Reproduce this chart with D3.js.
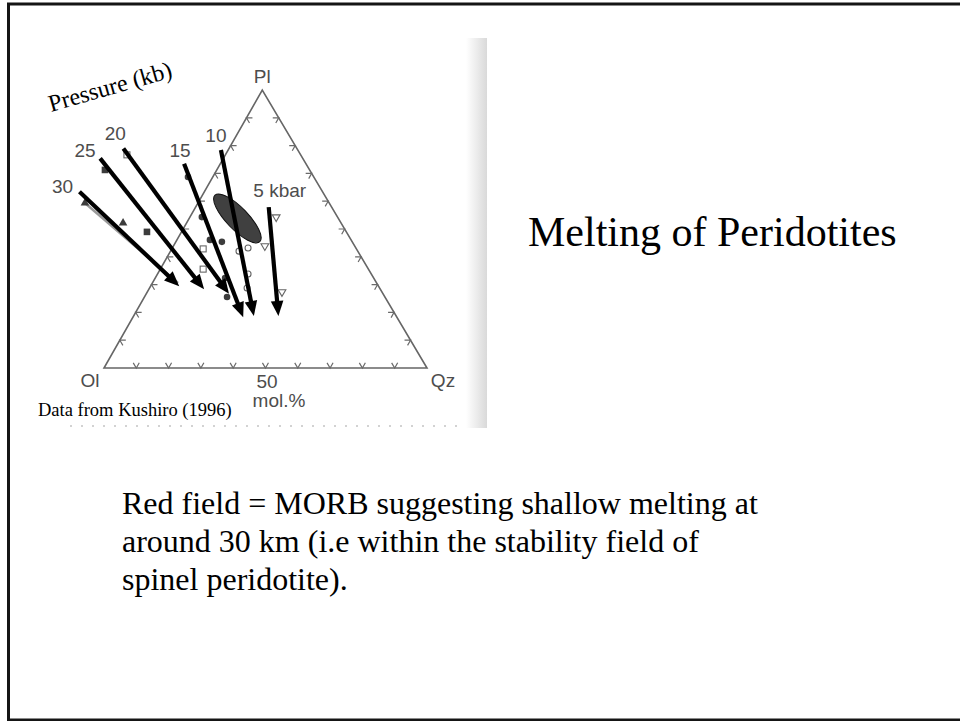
<!DOCTYPE html>
<html><head><meta charset="utf-8">
<script src="https://cdn.jsdelivr.net/npm/d3@7/dist/d3.min.js"></script>
<style>html,body{margin:0;padding:0;background:#fff;overflow:hidden;} svg{display:block;}</style>
</head><body>
<svg id="c" width="960" height="721"></svg>
<script>
// ---------------- data (diagram units: x = mol.% along Ol-Qz base, y = height, apex 86.6) ----------------
const vertexNames = ["Ol", "Qz", "Pl"];
const vertexX = [0, 100, 49];
const vertexY = [0, 0, 86.6];
const tickFractions = [0.1, 0.2, 0.3, 0.4, 0.5, 0.6, 0.7, 0.8, 0.9];
const baseTickLabel = "50";
const baseUnitLabel = "mol.%";

const pressureLabels = ["30", "25", "20", "15", "10", "5 kbar"];
const arrowX0 = [-7.6, -1.2, 6.0, 24.8, 36.2, 51.0];
const arrowY0 = [54.9, 65.3, 68.4, 63.6, 67.9, 50.1];
const arrowX1 = [23.3, 31.0, 38.7, 43.1, 46.4, 54.0];
const arrowY1 = [25.5, 24.5, 23.1, 15.8, 16.2, 16.2];

// experimental melt compositions (symbols of the scanned figure)
const filledCircleX = [26.0, 30.3, 32.8, 36.5, 37.5, 38.1];
const filledCircleY = [59.5, 47.0, 39.9, 39.3, 28.0, 22.1];
const openCircleX = [41.8, 44.6, 44.6, 44.3];
const openCircleY = [36.4, 37.4, 29.3, 24.9];
const filledSquareX = [0.3, 13.3];
const filledSquareY = [61.7, 42.4];
const openSquareX = [7.1, 30.7, 30.7];
const openSquareY = [66.4, 37.1, 30.8];
const filledTriangleX = [-5.9, 5.9];
const filledTriangleY = [51.4, 45.2];
const openTriangleX = [53.3, 49.8, 55.1];
const openTriangleY = [47.0, 38.0, 23.7];
// original 30 kbar trend line of the figure
const trendX = [-5.9, 22.9];
const trendY = [51.4, 26.5];

// MORB field
const morbCenterX = 41.3, morbCenterY = 46.6, morbRx = 10.0, morbRy = 3.4, morbAngle = 46;

const titleText = "Melting of Peridotites";
const sourceText = "Data from Kushiro (1996)";
const axisTitle = "Pressure (kb)";
const bodyLines = [
  "Red field = MORB suggesting shallow melting at",
  "around 30 km (i.e within the stability field of",
  "spinel peridotite)."
];

// ---------------- layout ----------------
const svg = d3.select("#c");
const x = d3.scaleLinear().domain([0, 100]).range([104, 427]);
const y = d3.scaleLinear().domain([0, 86.6]).range([368, 90]);
const serif = "'Liberation Serif','Times New Roman',Times,serif";
const sans = "'Liberation Sans',Arial,Helvetica,sans-serif";
const scanInk = "#4d4d4d";

// slide frame
svg.append("rect").attr("x", 8.5).attr("y", 4).attr("width", 960).attr("height", 716)
  .attr("fill", "#fff").attr("stroke", "#151515").attr("stroke-width", 3);

// scanned picture edge shading
const defs = svg.append("defs");
const g1 = defs.append("linearGradient").attr("id", "edge").attr("x1", 0).attr("x2", 1).attr("y1", 0).attr("y2", 0);
g1.append("stop").attr("offset", 0).attr("stop-color", "#fff");
g1.append("stop").attr("offset", 1).attr("stop-color", "#d9d9d9");
svg.append("rect").attr("x", 466).attr("y", 38).attr("width", 21).attr("height", 390).attr("fill", "url(#edge)");
svg.append("line").attr("x1", 70).attr("x2", 462).attr("y1", 426).attr("y2", 426)
  .attr("stroke", "#c4c4c4").attr("stroke-width", 1.5).attr("stroke-dasharray", "2,9");

const plot = svg.append("g");

// triangle
const P = vertexX.map((v, i) => [x(v), y(vertexY[i])]);
plot.append("path").attr("d", d3.line()([P[0], P[1], P[2], P[0]]) + "Z")
  .attr("fill", "none").attr("stroke", "#666").attr("stroke-width", 1.6).attr("stroke-linejoin", "miter");

// chevron ticks on each side (arms parallel to the two other sides)
function unit(a, b) { const dx = b[0] - a[0], dy = b[1] - a[1], l = Math.hypot(dx, dy); return [dx / l, dy / l]; }
const sides = [[0, 1, 2], [0, 2, 1], [1, 2, 0]]; // [from, to, opposite]
const tickPaths = [];
sides.forEach(([a, b, c]) => {
  const u1 = unit(P[a], P[c]), u2 = unit(P[b], P[c]);
  tickFractions.forEach(f => {
    const p = [P[a][0] + (P[b][0] - P[a][0]) * f, P[a][1] + (P[b][1] - P[a][1]) * f];
    const L = 6;
    tickPaths.push(d3.line()([[p[0] + u1[0] * L, p[1] + u1[1] * L], p, [p[0] + u2[0] * L, p[1] + u2[1] * L]]));
  });
});
plot.selectAll("path.tick").data(tickPaths).join("path").attr("class", "tick").attr("d", d => d)
  .attr("fill", "none").attr("stroke", "#6a6a6a").attr("stroke-width", 1.2);

// vertex labels
const vOff = [[-14, 19], [16, 19], [0, -7]];
plot.selectAll("text.vtx").data(vertexNames).join("text").attr("class", "vtx")
  .attr("x", (d, i) => P[i][0] + vOff[i][0]).attr("y", (d, i) => P[i][1] + vOff[i][1])
  .attr("text-anchor", "middle").attr("font-family", sans).attr("font-size", 19).attr("fill", scanInk).text(d => d);
plot.append("text").attr("x", x(50) + 1.5).attr("y", y(0) + 20).attr("text-anchor", "middle")
  .attr("font-family", sans).attr("font-size", 19).attr("fill", scanInk).text(baseTickLabel);
plot.append("text").attr("x", x(50) + 13.5).attr("y", y(0) + 39).attr("text-anchor", "middle")
  .attr("font-family", sans).attr("font-size", 19).attr("fill", scanInk).text(baseUnitLabel);

// trend line of the original figure
plot.append("line").attr("x1", x(trendX[0])).attr("y1", y(trendY[0]) ).attr("x2", x(trendX[1])).attr("y2", y(trendY[1]))
  .attr("stroke", "#9a9a9a").attr("stroke-width", 2.5);

// symbols
const sym = plot.append("g");
sym.selectAll("circle.fc").data(filledCircleX).join("circle").attr("class", "fc")
  .attr("cx", d => x(d)).attr("cy", (d, i) => y(filledCircleY[i])).attr("r", 3.3).attr("fill", "#3c3c3c");
sym.selectAll("circle.oc").data(openCircleX).join("circle").attr("class", "oc")
  .attr("cx", d => x(d)).attr("cy", (d, i) => y(openCircleY[i])).attr("r", 3).attr("fill", "#fff").attr("stroke", "#666").attr("stroke-width", 1.1);
sym.selectAll("rect.fs").data(filledSquareX).join("rect").attr("class", "fs")
  .attr("x", d => x(d) - 3.3).attr("y", (d, i) => y(filledSquareY[i]) - 3.3).attr("width", 6.6).attr("height", 6.6).attr("fill", "#3c3c3c");
sym.selectAll("rect.os").data(openSquareX).join("rect").attr("class", "os")
  .attr("x", d => x(d) - 3).attr("y", (d, i) => y(openSquareY[i]) - 3).attr("width", 6).attr("height", 6)
  .attr("fill", "#fff").attr("stroke", "#666").attr("stroke-width", 1.1);
const triUp = d3.symbol().type(d3.symbolTriangle).size(32);
const triDown = d3.symbol().type(d3.symbolTriangle).size(26);
sym.selectAll("path.ft").data(filledTriangleX).join("path").attr("class", "ft")
  .attr("transform", (d, i) => `translate(${x(d)},${y(filledTriangleY[i])})`).attr("d", triUp()).attr("fill", "#3c3c3c");
sym.selectAll("path.ot").data(openTriangleX).join("path").attr("class", "ot")
  .attr("transform", (d, i) => `translate(${x(d)},${y(openTriangleY[i])}) rotate(180)`).attr("d", triDown())
  .attr("fill", "#fff").attr("stroke", "#666").attr("stroke-width", 1.1);

// MORB field
const mpx = x(morbCenterX), mpy = y(morbCenterY);
plot.append("ellipse").attr("cx", 0).attr("cy", 0)
  .attr("rx", x(morbRx) - x(0)).attr("ry", y(0) - y(morbRy))
  .attr("transform", `translate(${mpx},${mpy}) rotate(${morbAngle})`)
  .attr("fill", "#404040").attr("stroke", "#111").attr("stroke-width", 1);

// arrows
const arrows = pressureLabels.map((lab, i) => {
  const p0 = [x(arrowX0[i]), y(arrowY0[i])], p1 = [x(arrowX1[i]), y(arrowY1[i])];
  const d = unit(p0, p1), n = [-d[1], d[0]];
  const HL = 15, HW = 6.3;
  const b = [p1[0] - d[0] * HL, p1[1] - d[1] * HL];
  return { lab, p0, p1, b, d, n, HW };
});
const ag = plot.append("g");
ag.selectAll("line").data(arrows).join("line")
  .attr("x1", a => a.p0[0]).attr("y1", a => a.p0[1])
  .attr("x2", a => a.b[0] + a.d[0] * 2).attr("y2", a => a.b[1] + a.d[1] * 2)
  .attr("stroke", "#000").attr("stroke-width", 4.2);
ag.selectAll("path").data(arrows).join("path")
  .attr("d", a => d3.line()([a.p1, [a.b[0] + a.n[0] * a.HW, a.b[1] + a.n[1] * a.HW], [a.b[0] - a.n[0] * a.HW, a.b[1] - a.n[1] * a.HW]]) + "Z")
  .attr("fill", "#000");

// pressure labels (offset from arrow tails)
const labelDx = [-17, -15, -8, -4, -5, 11];
const labelDy = [1, -1, -8, -7, -8, -10];
plot.selectAll("text.pl").data(arrows).join("text").attr("class", "pl")
  .attr("x", (a, i) => a.p0[0] + labelDx[i]).attr("y", (a, i) => a.p0[1] + labelDy[i])
  .attr("text-anchor", "middle").attr("font-family", sans).attr("font-size", 19).attr("fill", scanInk)
  .text(a => a.lab);

// "Pressure (kb)"
svg.append("text").attr("transform", "translate(51,112) rotate(-16)")
  .attr("font-family", serif).attr("font-size", 24).attr("fill", "#000").text(axisTitle);

// source
svg.append("text").attr("x", 38).attr("y", 416).attr("font-family", serif).attr("font-size", 18.5)
  .attr("fill", "#000").text(sourceText);

// title
svg.append("text").attr("x", 528).attr("y", 246).attr("font-family", serif).attr("font-size", 42)
  .attr("fill", "#000").text(titleText);

// body text
svg.selectAll("text.body").data(bodyLines).join("text").attr("class", "body")
  .attr("x", 122).attr("y", (d, i) => 514 + i * 38).attr("font-family", serif).attr("font-size", 32)
  .attr("fill", "#000").text(d => d);
</script>
</body></html>
